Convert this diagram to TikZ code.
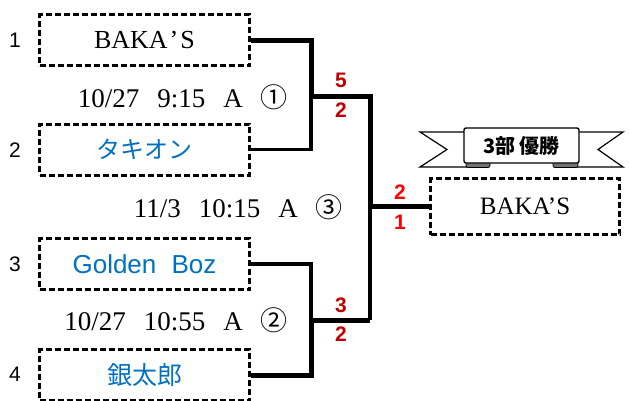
\documentclass[tikz,border=0pt]{standalone}
\usepackage{fontspec}
\setmainfont{Liberation Serif}
\newfontfamily\cjk{Noto Sans CJK JP}
\newfontfamily\arial{Liberation Sans}
\definecolor{teamblue}{HTML}{0070C0}
\definecolor{scorered}{HTML}{C00000}
\definecolor{finalred}{HTML}{FF0000}
\newcommand{\fsz}[1]{\fontsize{#1}{#1}\selectfont}
\newcommand{\gp}{\hspace{18pt}}

\begin{document}
\begin{tikzpicture}[x=1pt,y=-1pt]
        \tikzstyle{team}=[draw, line width=3pt, dash pattern=on 6pt off 3pt,
          minimum width=210pt, minimum height=51pt, inner sep=0pt]
        \tikzstyle{win}=[line width=5pt]
        \tikzstyle{lose}=[line width=3.5pt]
        \tikzstyle{seed}=[font=\arial\fsz{21}]
        \tikzstyle{score}=[font=\arial\bfseries\fsz{21}, text=scorered]
        \tikzstyle{match}=[anchor=east, inner sep=0pt, font=\fsz{27}]

        \useasboundingbox (0,0) rectangle (629,400);

        % teams
        \path (144.5,40) node[team, font=\fsz{26}] (t1) {BAKA\kern2pt’\kern2pt S};
        \path (144.5,149.5) node[team, font=\cjk\fsz{24}, text=teamblue] (t2) {タキオン};
        \path (144.5,264) node[team, font=\arial\fsz{26}, text=teamblue] (t3) {Golden\hspace{8pt} Boz};
        \path (144.5,375) node[team, font=\cjk\fsz{25}, text=teamblue] (t4) {銀太郎};
        \path (525,206.5) node[team, minimum width=189pt, minimum height=56pt, font=\fsz{25}] (champ) {BAKA’S};

        \foreach \i/\y in {1/40, 2/150, 3/264, 4/374}
        {
          \path (15,\y) node[seed] (s\i) {\i};
        }

        % match info
        \path (288,97) node[match] (g1) {10/27\gp 9:15\gp A\gp{\cjk ①}};
        \path (343,207) node[match] (g3) {11/3\gp 10:15\gp A\gp{\cjk ③}};
        \path (288,320) node[match] (g2) {10/27\gp 10:55\gp A\gp{\cjk ②}};

        % bracket
        \coordinate (j1) at (311,96);
        \coordinate (j2) at (311,320);
        \coordinate (k1) at (370,96);
        \coordinate (k2) at (370,320);
        \coordinate (k3) at (k1 |- champ.west);

        \draw [lose] (t2.east) -| (j1);
        \draw [lose] (t3.east) -| (j2);
        \draw [lose] (k2) -- (k3);
        \draw [win] (t1.east) -| (j1) -- (k1) |- (champ.west);
        \draw [win] (t4.east) -| (j2) -- (k2);

        % scores
        \path (341,80) node[score] (a1) {5};
        \path (341,110) node[score] (b1) {2};
        \path (341,305) node[score] (a2) {3};
        \path (341,334) node[score] (b2) {2};
        \path (400,192) node[score, text=finalred] (a3) {2};
        \path (400,222) node[score, text=finalred] (b3) {1};

        % banner
        \filldraw [fill=white, line width=1.2pt] (420,132) -- (467,132) -- (467,167) -- (420,167) -- (447,149.5) -- cycle;
        \filldraw [fill=white, line width=1.2pt] (623,132) -- (576,132) -- (576,167) -- (623,167) -- (598,149.5) -- cycle;
        \filldraw [fill=black!55, line width=0.8pt, rounded corners=2pt] (466,159) rectangle (490,167.5);
        \filldraw [fill=black!55, line width=0.8pt, rounded corners=2pt] (553,159) rectangle (578,167.5);
        \filldraw [fill=white, line width=1.4pt, rounded corners=2pt] (464,128) rectangle (579,163);
        \path (521.5,146) node[font=\cjk\bfseries\fsz{20}] (title) {3部 優勝};
      \end{tikzpicture}
\end{document}
